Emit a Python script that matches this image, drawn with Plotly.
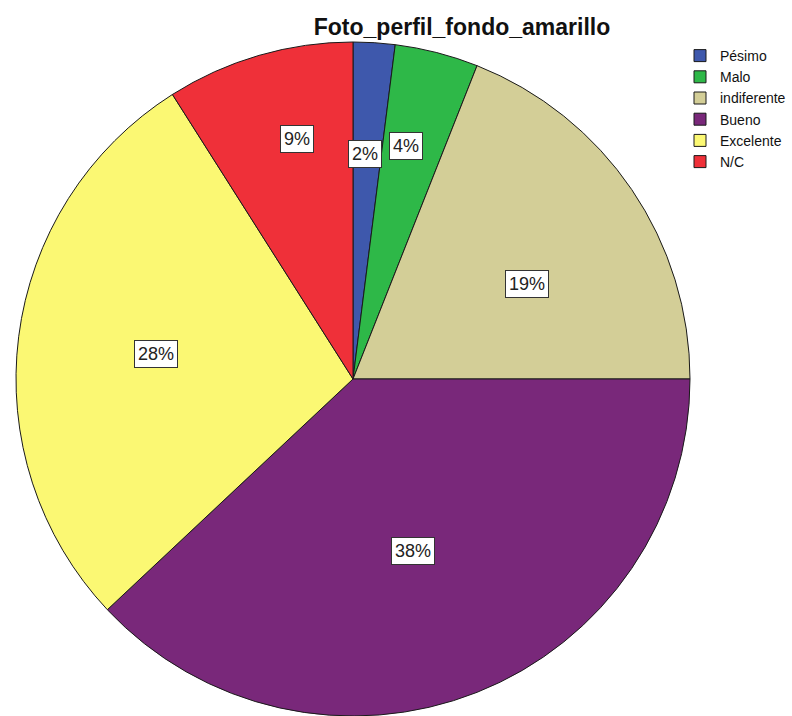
import math
import plotly.graph_objects as go

categories = ["Pésimo", "Malo", "indiferente", "Bueno", "Excelente", "N/C"]
values = [2, 4, 19, 38, 28, 9]
colors = ["#3E58AC", "#2EB848", "#D3CE97", "#79287A", "#FBF873", "#EF3039"]

# label placement (layout only): radial fraction and angular nudge in degrees
label_r = [0.67, 0.71, 0.59, 0.54, 0.59, 0.73]
label_dtheta = [-0.5, -1.5, 5.5, 2.5, 0.0, 3.0]

W, H = 792, 716
cx, cy, R = 353, 379, 337

fig = go.Figure(go.Pie(
    labels=categories, values=values, sort=False, direction="clockwise", rotation=0,
    marker=dict(colors=colors, line=dict(color="#1a1a1a", width=1)),
    textinfo="none", hoverinfo="label+percent",
    domain=dict(x=[(cx - R) / W, (cx + R) / W], y=[1 - (cy + R) / H, 1 - (cy - R) / H]),
))

total = sum(values)
cum = 0
annotations = []
for v, fr, dt in zip(values, label_r, label_dtheta):
    mid = (cum + v / 2) / total * 2 * math.pi + math.radians(dt)
    cum += v
    px = cx + fr * R * math.sin(mid)
    py = cy - fr * R * math.cos(mid)
    annotations.append(dict(
        x=px / W, y=1 - py / H, xref="paper", yref="paper", showarrow=False,
        xanchor="center", yanchor="middle",
        text=f"{round(v / total * 100)}%", font=dict(family="Liberation Sans, Arial", size=18, color="#222"),
        bgcolor="white", bordercolor="#333", borderwidth=1, borderpad=3,
    ))

fig.update_layout(
    width=W, height=H, margin=dict(l=0, r=0, t=0, b=0),
    paper_bgcolor="white", plot_bgcolor="white",
    title=dict(text="<b>Foto_perfil_fondo_amarillo</b>", x=462 / W, xanchor="center",
               y=1 - 27 / H, yanchor="middle", xref="paper", yref="container",
               font=dict(family="Liberation Sans, Arial", size=23, color="#111")),
    legend=dict(x=680 / W, y=1 - 40 / H, xanchor="left", yanchor="top",
                font=dict(family="Liberation Sans, Arial", size=14, color="#111"),
                bgcolor="rgba(0,0,0,0)", traceorder="normal", tracegroupgap=0),
    annotations=annotations,
)

fig.write_html("out.html")
